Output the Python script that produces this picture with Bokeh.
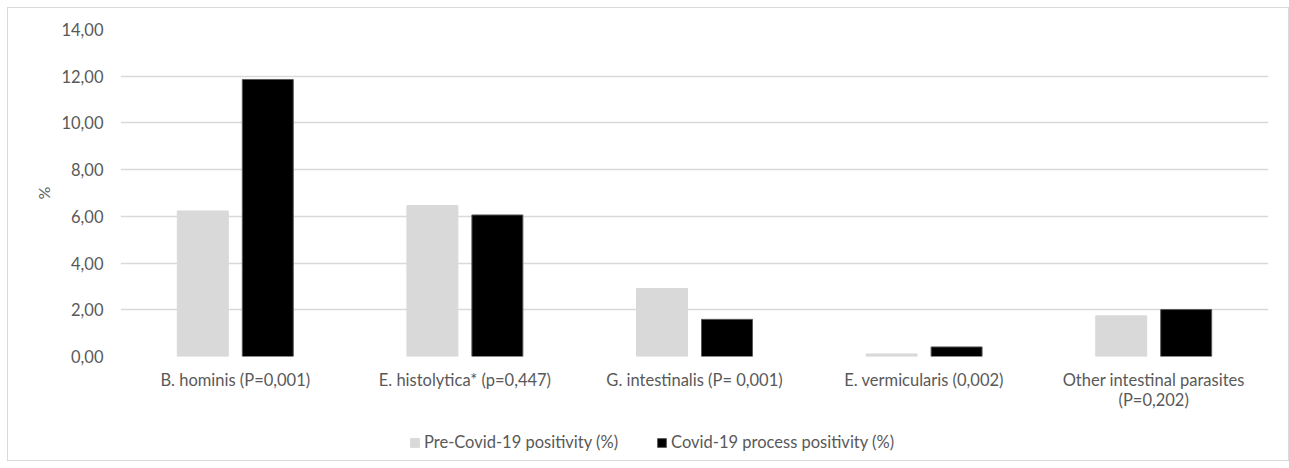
from bokeh.plotting import figure
from bokeh.layouts import column
from bokeh.models import FactorRange, Range1d, FixedTicker, Legend, LegendItem, ColumnDataSource
from bokeh.transform import dodge
from bokeh.embed import file_html
from bokeh.resources import INLINE

categories = ["B. hominis (P=0,001)", "E. histolytica* (p=0,447)", "G. intestinalis (P= 0,001)",
              "E. vermicularis (0,002)", "Other intestinal parasites\n(P=0,202)"]
pre_covid = [6.23, 6.46, 2.91, 0.11, 1.74]
covid_process = [11.86, 6.06, 1.59, 0.41, 2.01]
series_names = ["Pre-Covid-19 positivity (%)", "Covid-19 process positivity (%)"]
y_ticks = [0, 2, 4, 6, 8, 10, 12, 14]
y_tick_labels = ["0,00", "2,00", "4,00", "6,00", "8,00", "10,00", "12,00", "14,00"]

FONT = "Lato"
TXT = "#595959"
GRID = "#D9D9D9"
PRE_COLOR = "#D9D9D9"
COV_COLOR = "#000000"
W = 1280
BL, BR = 112, 20

src = ColumnDataSource(dict(cat=categories, pre=pre_covid, cov=covid_process))

p = figure(width=W, height=420, output_backend="svg", toolbar_location=None,
           x_range=FactorRange(*categories, range_padding=0), y_range=Range1d(0, 14),
           min_border_left=BL, min_border_right=BR, min_border_top=21, min_border_bottom=72)
p.outline_line_color = None

p.vbar(x=dodge("cat", -0.1415, range=p.x_range), top="pre", width=0.222, source=src,
       fill_color=PRE_COLOR, line_color=PRE_COLOR, line_width=1)
p.vbar(x=dodge("cat", 0.1415, range=p.x_range), top="cov", width=0.222, source=src,
       fill_color=COV_COLOR, line_color="#595959", line_width=1)

p.xgrid.grid_line_color = None
p.ygrid.grid_line_color = GRID
p.ygrid.grid_line_width = 1.3
p.yaxis.ticker = FixedTicker(ticks=y_ticks)
p.yaxis.major_label_overrides = {t: l for t, l in zip(y_ticks, y_tick_labels)}
p.yaxis.axis_label = "%"
p.yaxis.axis_label_standoff = 5
p.yaxis.axis_label_text_font = FONT
p.yaxis.axis_label_text_font_style = "normal"
p.yaxis.axis_label_text_font_size = "16px"
p.yaxis.axis_label_text_color = TXT
p.yaxis.major_label_standoff = 17
p.xaxis.major_label_standoff = 13

for ax in (p.xaxis, p.yaxis):
    ax.axis_line_color = None
    ax.major_tick_line_color = None
    ax.minor_tick_line_color = None
    ax.major_tick_out = 0
    ax.major_tick_in = 0
    ax.minor_tick_out = 0
    ax.major_label_text_font = FONT
    ax.major_label_text_font_size = "16.5px"
    ax.major_label_text_color = TXT
    ax.major_label_text_line_height = 1.0

# legend strip
lg = figure(width=W, height=32, output_backend="svg", toolbar_location=None,
            x_range=Range1d(0, 1), y_range=Range1d(0, 1),
            min_border_left=BL, min_border_right=BR, min_border_top=0, min_border_bottom=0)
lg.axis.visible = False
lg.grid.visible = False
lg.outline_line_color = None
k1 = lg.vbar(x=[-5], top=[-5], width=0.1, fill_color=PRE_COLOR, line_color=PRE_COLOR)
k2 = lg.vbar(x=[-5], top=[-5], width=0.1, fill_color=COV_COLOR, line_color="#595959")
legend = Legend(items=[LegendItem(label=series_names[0], renderers=[k1]),
                       LegendItem(label=series_names[1], renderers=[k2])],
                orientation="horizontal", location=(289, 8),
                label_text_font=FONT, label_text_font_size="16.5px", label_text_color=TXT,
                glyph_width=11, glyph_height=11, label_standoff=4, spacing=38,
                border_line_color=None, background_fill_alpha=0, padding=4, margin=0)
lg.add_layout(legend, "center")

layout = column(p, lg, spacing=0)
layout.styles = {"border": "1px solid #D9D9D9", "margin-left": "7px", "margin-top": "7px"}
open("out.html", "w").write(file_html(layout, INLINE))
